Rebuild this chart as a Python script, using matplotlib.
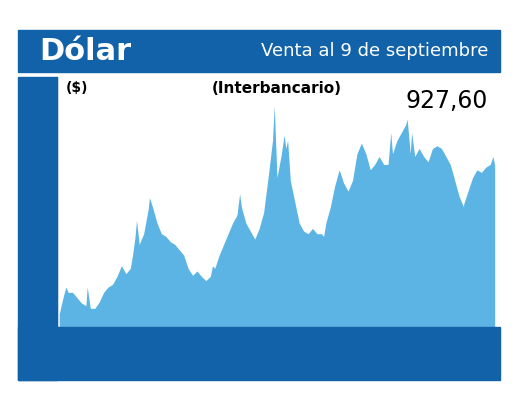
import numpy as np
import matplotlib.pyplot as plt
from matplotlib.patches import Rectangle

plt.rcParams['font.family'] = ['Liberation Sans Narrow', 'DejaVu Sans Condensed', 'DejaVu Sans']

# monthly values, Jul 2018 .. Sep 2026
values = [650, 685, 690, 690, 680, 670,
          665, 660, 660, 672, 690, 700, 705, 720, 740, 725, 735, 790,
          780, 800, 845, 850, 820, 800, 795, 785, 780, 770, 760, 735,
          722, 730, 720, 712, 720, 735, 760, 780, 800, 820, 835, 850,
          820, 805, 790, 810, 840, 905, 975, 905, 950, 960, 900, 860,
          820, 805, 800, 810, 800, 800, 820, 850, 890, 920, 895, 880,
          900, 950, 970, 950, 920, 930, 945, 930, 930, 950, 975, 990,
          1005, 950, 945, 960, 945, 935, 960, 965, 960, 945, 930, 900,
          870, 855, 880, 905, 920, 915, 925, 930, 928]
# short spikes (month index, value)
spikes = [(1.5, 700), (6.3, 700), (16.5, 760), (17.4, 825), (20.3, 868), (34.5, 740),
          (40.6, 875), (48.4, 1040), (50.6, 985), (51.4, 975), (59.5, 795), (74.6, 990),
          (78.3, 1015), (79.3, 990), (91.0, 850), (97.6, 945)]

months = list("JASOND") + list("EFMAMJJASOND") * 7 + list("EFMAMJJAS")
days = list("313153211111311214223214113112141113112112131112111113213"
            "113213112112111231121422331221111312221411133")
years = [2018, 2019, 2020, 2021, 2022, 2023, 2024, 2025, 2026]
yticks = [625, 712, 799, 886, 973, 1060]

x = np.arange(len(values), dtype=float)
pts = sorted(list(zip(x, values)) + spikes)
px = [p[0] for p in pts]
py = [p[1] for p in pts]

navy = '#1162a8'
fill = '#5cb4e4'

fig = plt.figure(figsize=(5.2, 4.05), dpi=100)
fig.patches.append(Rectangle((0.035, 0.822), 0.927, 0.104, transform=fig.transFigure, color=navy))
fig.patches.append(Rectangle((0.035, 0.062), 0.075, 0.748, transform=fig.transFigure, color=navy))
fig.patches.append(Rectangle((0.035, 0.062), 0.927, 0.131, transform=fig.transFigure, color=navy))
fig.text(0.075, 0.873, 'Dólar', color='white', fontsize=22, fontweight='bold', va='center')
fig.text(0.94, 0.873, 'Venta al 9 de septiembre', color='white', fontsize=13, va='center', ha='right')

ax = fig.add_axes([0.1096, 0.1926, 0.846, 0.6173])
ax.fill_between(px, py, 600, color=fill, lw=0)
ax.set_xlim(-0.5, len(values) - 0.5)
ax.set_ylim(625, 1094)
ax.set_yticks(yticks)
ax.set_yticklabels([str(v) for v in yticks], color='white', fontsize=10)
ax.tick_params(axis='y', length=0, pad=4)
ax.set_xticks([])
for s in ['top', 'right', 'bottom']:
    ax.spines[s].set_visible(False)
ax.spines['left'].set_color('black')

ax.text(0.02, 0.985, '($)', transform=ax.transAxes, fontsize=10, fontweight='bold', va='top')
ax.text(0.5, 0.985, '(Interbancario)', transform=ax.transAxes, fontsize=11, fontweight='bold', va='top', ha='center')
ax.text(0.98, 0.95, '927,60', transform=ax.transAxes, fontsize=17, va='top', ha='right')

tr = ax.get_xaxis_transform()
for i, m in enumerate(months):
    ax.text(i, -0.085, m, transform=tr, color='white', fontsize=5, ha='center', va='center', clip_on=False)
    ax.text(i, -0.03, days[i % len(days)], transform=tr, color='white', fontsize=5, ha='center', va='center', clip_on=False)
    ax.text(i, -0.062, '-', transform=tr, color='white', fontsize=5, ha='center', va='center', clip_on=False)

# year segments
start = 0
for k, yr in enumerate(years):
    n = 6 if k == 0 else (9 if yr == 2026 else 12)
    ax.plot([start - 0.2, start + n - 0.8], [-0.115, -0.115], transform=tr, color='white', lw=0.6, clip_on=False)
    ax.text(start + (n - 1) / 2, -0.16, str(yr), transform=tr, color='white', fontsize=6.5,
            fontweight='bold', ha='center', va='center', clip_on=False)
    start += n

fig.savefig('out.png', dpi=100)
